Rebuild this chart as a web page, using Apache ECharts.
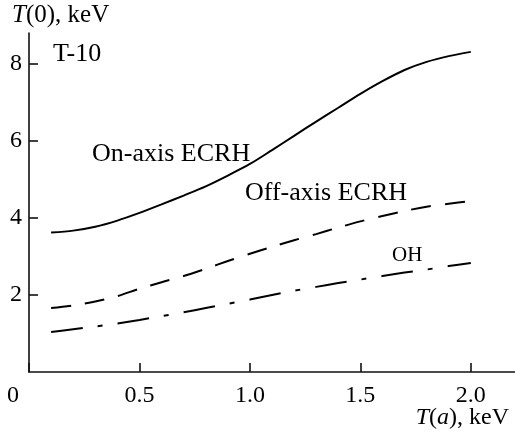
<!DOCTYPE html>
<html>
<head>
<meta charset="utf-8">
<style>
  html, body { margin: 0; padding: 0; background: #fff; }
  #chart { width: 515px; height: 436px; }
</style>
<script src="https://cdn.jsdelivr.net/npm/echarts@6/dist/echarts.min.js"></script>
</head>
<body>
<div id="chart"></div>
<script>
// Central temperature T(0) versus edge temperature T(a), T-10 tokamak
const edgeT = [0.1, 0.2, 0.3, 0.4, 0.5, 0.6, 0.7, 0.8, 0.9, 1.0,
               1.1, 1.2, 1.3, 1.4, 1.5, 1.6, 1.7, 1.8, 1.9, 2.0];
const onAxisECRH = [3.62, 3.67, 3.77, 3.93, 4.13, 4.35, 4.58, 4.82, 5.10, 5.40,
                    5.76, 6.13, 6.50, 6.86, 7.22, 7.55, 7.84, 8.05, 8.20, 8.31];
const offAxisECRH = [1.66, 1.73, 1.83, 1.97, 2.16, 2.33, 2.49, 2.68, 2.88, 3.07,
                     3.25, 3.42, 3.58, 3.75, 3.91, 4.05, 4.18, 4.29, 4.37, 4.44];
const ohmic = [1.04, 1.11, 1.18, 1.26, 1.35, 1.45, 1.55, 1.66, 1.77, 1.88,
               2.00, 2.11, 2.21, 2.31, 2.40, 2.49, 2.58, 2.66, 2.75, 2.83];

const xTicks = [0, 0.5, 1.0, 1.5, 2.0];
const xTickLabels = ['0', '0.5', '1.0', '1.5', '2.0'];
const yTicks = [2, 4, 6, 8];
const yTickLabels = ['2', '4', '6', '8'];

const FONT = 'Liberation Serif';
const INK = '#000';
const pairs = (xs, ys) => xs.map((x, i) => [x, ys[i]]);

const chart = echarts.init(document.getElementById('chart'), null, { renderer: 'canvas' });

const axisLine = { show: true, lineStyle: { color: '#111', width: 1.6 } };
const axisTick = { show: true, inside: true, length: 9, lineStyle: { color: '#111', width: 1.6 } };

chart.setOption({
  animation: false,
  backgroundColor: '#fff',
  grid: { left: 29, top: 33, width: 488, height: 339, containLabel: false },
  xAxis: {
    type: 'value', min: 0, max: 2.2,
    axisLine,
    axisTick: Object.assign({}, axisTick, { customValues: xTicks }),
    splitLine: { show: false },
    axisLabel: {
      customValues: xTicks,
      margin: 12,
      color: INK, fontFamily: FONT, fontSize: 24,
      formatter: v => {
        const i = xTicks.indexOf(v);
        const s = i >= 0 ? xTickLabels[i] : '';
        return v === 0 ? '{o|' + s + '}' : s;
      },
      rich: { o: { fontFamily: FONT, fontSize: 24, color: INK, padding: [0, 32, 0, 0] } }
    }
  },
  yAxis: {
    type: 'value', min: 0, max: 8.8,
    axisLine,
    axisTick: Object.assign({}, axisTick, { customValues: yTicks }),
    splitLine: { show: false },
    axisLabel: {
      customValues: yTicks,
      margin: 7,
      color: INK, fontFamily: FONT, fontSize: 24,
      formatter: v => { const i = yTicks.indexOf(v); return i >= 0 ? yTickLabels[i] : ''; }
    }
  },
  series: [
    {
      name: 'On-axis ECRH', type: 'line', smooth: 0.3, symbol: 'none',
      data: pairs(edgeT, onAxisECRH),
      lineStyle: { color: INK, width: 2, type: 'solid' }
    },
    {
      name: 'Off-axis ECRH', type: 'line', smooth: 0.3, symbol: 'none',
      data: pairs(edgeT, offAxisECRH),
      lineStyle: { color: INK, width: 2, type: [20, 14] }
    },
    {
      name: 'OH', type: 'line', smooth: 0.3, symbol: 'none',
      data: pairs(edgeT, ohmic),
      lineStyle: { color: INK, width: 2, type: [32, 15, 5, 15] }
    }
  ],
  graphic: [
    { type: 'text', style: { x: 12, y: 15, text: '{i|T}(0), keV', textVerticalAlign: 'middle',
        font: '25px ' + FONT, fill: INK,
        rich: { i: { fontFamily: FONT, fontSize: 25, fontStyle: 'italic', fill: INK } } } },
    { type: 'text', style: { x: 53, y: 54, text: 'T-10', textVerticalAlign: 'middle', font: '26px ' + FONT, fill: INK } },
    { type: 'text', style: { x: 92, y: 154, text: 'On-axis ECRH', textVerticalAlign: 'middle', font: '26px ' + FONT, fill: INK } },
    { type: 'text', style: { x: 245, y: 193, text: 'Off-axis ECRH', textVerticalAlign: 'middle', font: '26px ' + FONT, fill: INK } },
    { type: 'text', style: { x: 392, y: 255, text: 'OH', textVerticalAlign: 'middle', font: '21px ' + FONT, fill: INK } },
    { type: 'text', style: { x: 509, y: 418, text: '{i|T}({i|a}), keV', textAlign: 'right', textVerticalAlign: 'middle',
        font: '24px ' + FONT, fill: INK,
        rich: { i: { fontFamily: FONT, fontSize: 24, fontStyle: 'italic', fill: INK } } } }
  ]
});
</script>
</body>
</html>
